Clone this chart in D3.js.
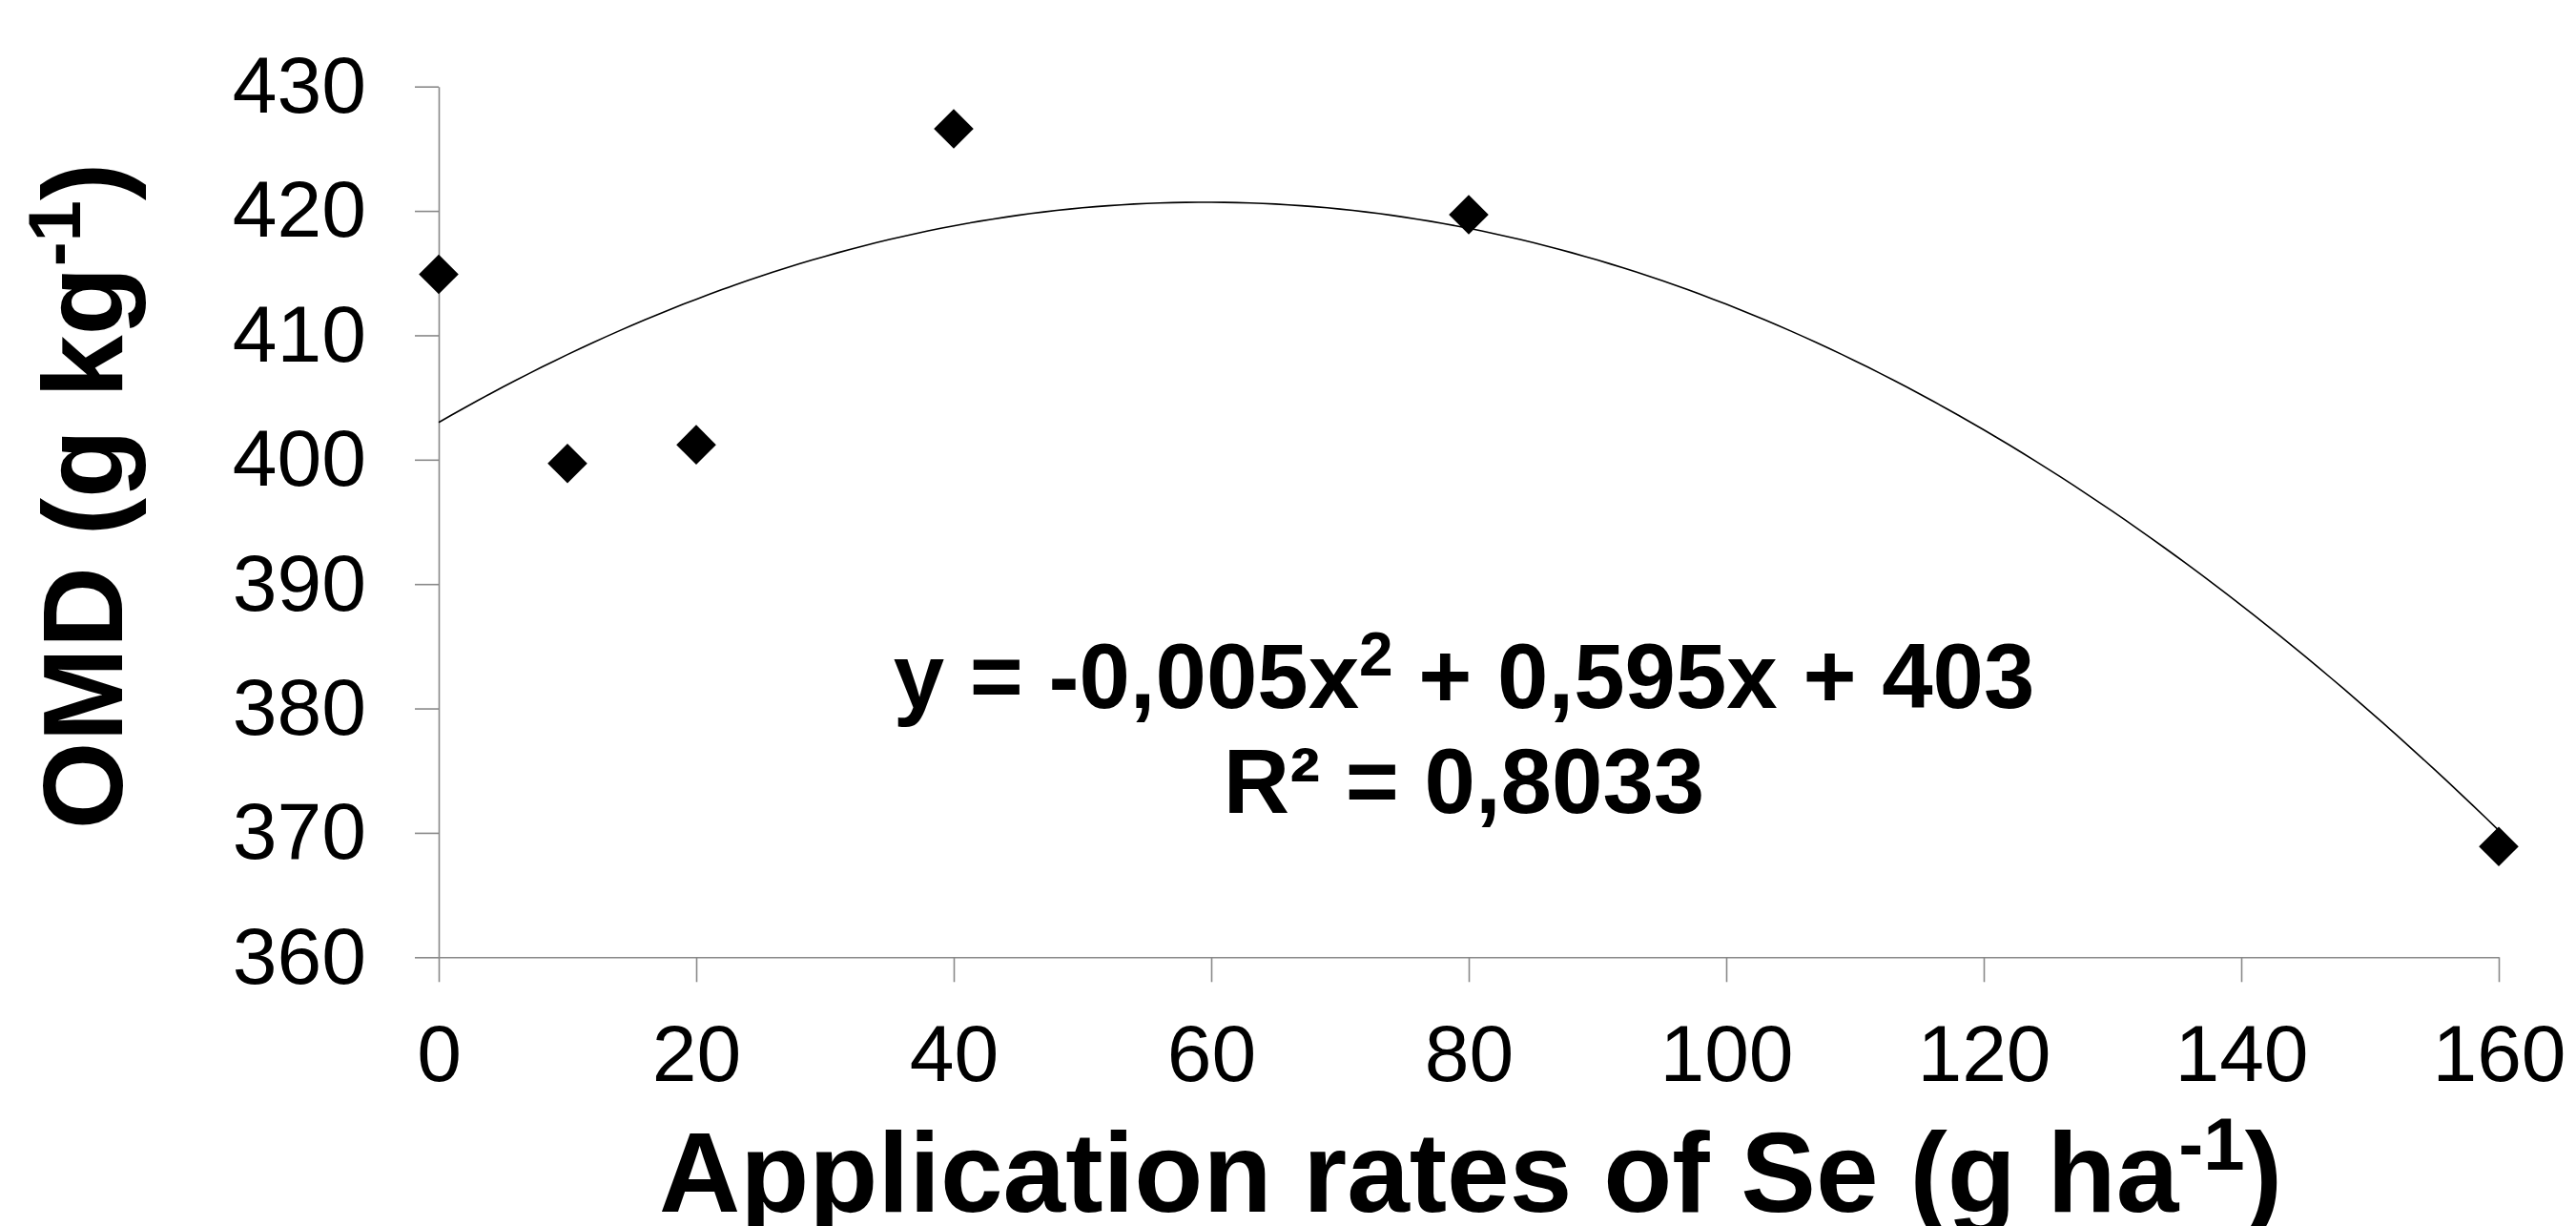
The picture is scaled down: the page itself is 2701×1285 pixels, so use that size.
<!DOCTYPE html>
<html>
<head>
<meta charset="utf-8">
<script src="https://cdn.jsdelivr.net/npm/d3@7"></script>
<style>
  body { margin: 0; background: #fff; }
  text { font-family: "Liberation Sans", Arial, sans-serif; fill: #000; }
</style>
</head>
<body>
<svg id="chart" width="2701" height="1285"></svg>
<script>
// data
var rates = [0, 10, 20, 40, 80, 160];
var omd   = [414.9, 399.7, 401.2, 426.6, 419.7, 368.9];
var xTicks = [0, 20, 40, 60, 80, 100, 120, 140, 160];
var yTicks = [360, 370, 380, 390, 400, 410, 420, 430];
// fitted polynomial, as given on the chart: a x^2 + b x + c
var fitCoef = [-0.005, 0.595, 403];

var svg = d3.select("#chart"),
    margin = {top: 90.7, right: 81, bottom: 281.7, left: 460},
    width  = +svg.attr("width")  - margin.left - margin.right,
    height = +svg.attr("height") - margin.top  - margin.bottom,
    g = svg.append("g").attr("transform", `translate(${margin.left},${margin.top})`);

var xScale = d3.scaleLinear().domain([0, 160]).range([0, width]);
var yScale = d3.scaleLinear().domain([360, 430]).range([height, 0]);

// Y axis
var yAxis = g.append("g")
  .call(d3.axisLeft(yScale).tickValues(yTicks).tickSize(25).tickSizeOuter(0).tickPadding(51));
// X axis
var xAxis = g.append("g")
  .attr("transform", `translate(0,${height})`)
  .call(d3.axisBottom(xScale).tickValues(xTicks).tickSize(26).tickSizeOuter(0).tickPadding(44));

[xAxis, yAxis].forEach(function(ax) {
  ax.selectAll("path, line").attr("stroke", "#898989").attr("stroke-width", 1.6);
  ax.selectAll("text").attr("font-size", 84).attr("fill", "#000")
    .style("font-family", '"Liberation Sans", Arial, sans-serif');
});

// trend line
var fitPts = d3.range(0, 160.5, 1).map(function(x) {
  return [x, fitCoef[0] * x * x + fitCoef[1] * x + fitCoef[2]];
});
g.append("path")
  .datum(fitPts)
  .attr("fill", "none")
  .attr("stroke", "#000")
  .attr("stroke-width", 1.6)
  .attr("d", d3.line().x(d => xScale(d[0])).y(d => yScale(d[1])));

// points
var diamond = d3.symbol().type(d3.symbolSquare).size(865);
g.selectAll(".pt")
  .data(rates)
  .enter().append("path")
  .attr("class", "pt")
  .attr("d", diamond)
  .attr("fill", "#000")
  .attr("transform", (d, i) => `translate(${xScale(d)},${yScale(omd[i])}) rotate(45)`);

// equation
var eq = svg.append("text")
  .attr("x", 1535).attr("y", 742)
  .attr("text-anchor", "middle")
  .attr("font-size", 96).attr("font-weight", "bold");
eq.append("tspan").text("y = -0,005x");
eq.append("tspan").attr("font-size", 64).attr("dy", -34).text("2");
eq.append("tspan").attr("dy", 34).text(" + 0,595x + 403");

svg.append("text")
  .attr("x", 1535).attr("y", 852)
  .attr("text-anchor", "middle")
  .attr("font-size", 96).attr("font-weight", "bold")
  .text("R² = 0,8033");

// x title
var xt = svg.append("text")
  .attr("x", 1542).attr("y", 1270)
  .attr("text-anchor", "middle")
  .attr("font-size", 118).attr("font-weight", "bold");
xt.append("tspan").text("Application rates of Se (g ha");
xt.append("tspan").attr("font-size", 78).attr("dy", -44).text("-1");
xt.append("tspan").attr("dy", 44).text(")");

// y title
var yt = svg.append("text")
  .attr("transform", "translate(128,520) rotate(-90)")
  .attr("text-anchor", "middle")
  .attr("font-size", 118).attr("font-weight", "bold");
yt.append("tspan").text("OMD (g kg");
yt.append("tspan").attr("font-size", 78).attr("dy", -44).text("-1");
yt.append("tspan").attr("dy", 44).text(")");
</script>
</body>
</html>
